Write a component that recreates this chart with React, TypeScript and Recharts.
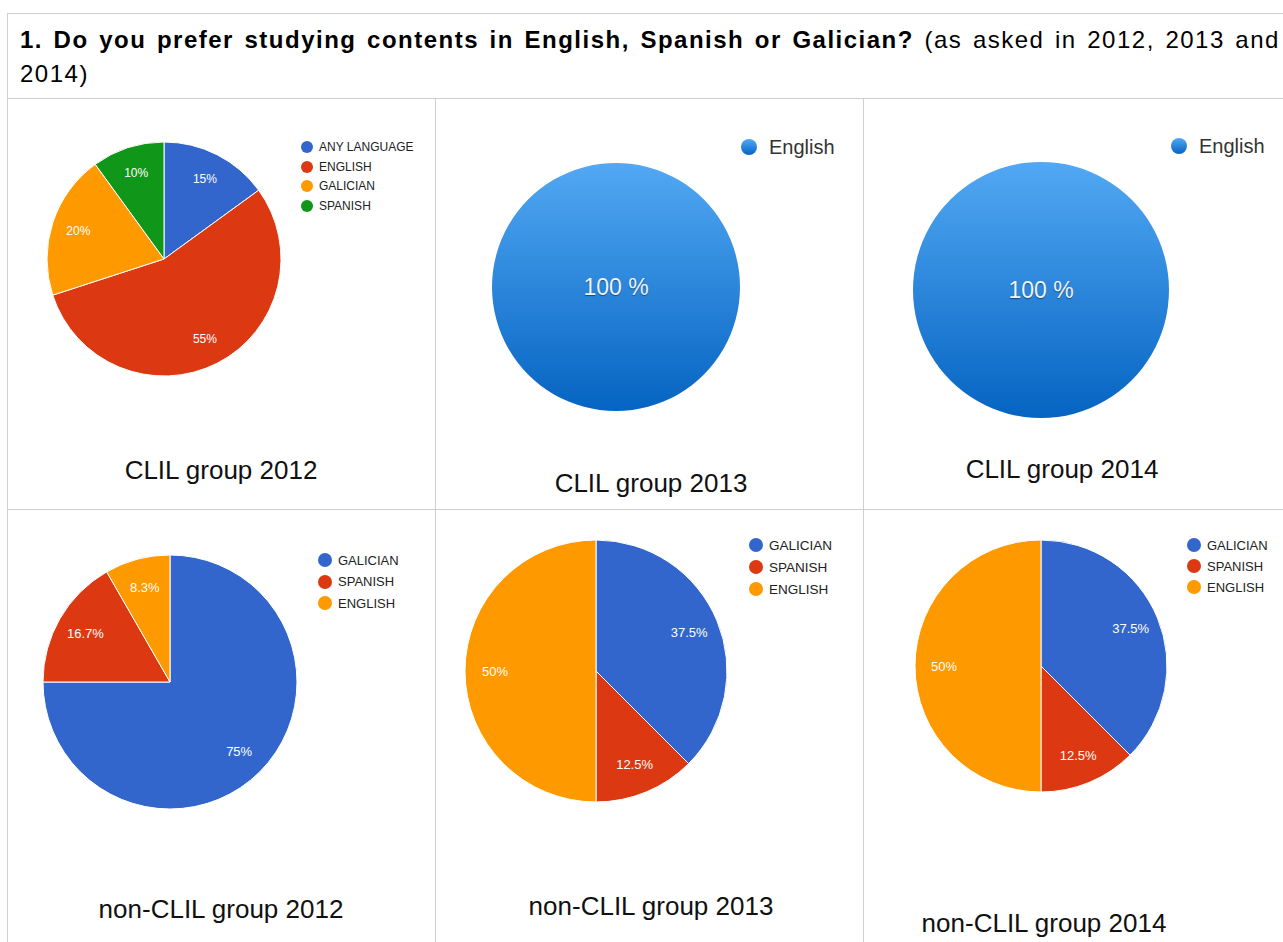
import { PieChart, Pie, Cell } from 'recharts'

// chart values
const clil2012Names = ['ANY LANGUAGE', 'ENGLISH', 'GALICIAN', 'SPANISH']
const clil2012Values = [15, 55, 20, 10]
const clil2013Names = ['English']
const clil2013Values = [100]
const clil2014Names = ['English']
const clil2014Values = [100]
const nonClil2012Names = ['GALICIAN', 'SPANISH', 'ENGLISH']
const nonClil2012Values = [75, 16.7, 8.3]
const nonClil2013Names = ['GALICIAN', 'SPANISH', 'ENGLISH']
const nonClil2013Values = [37.5, 12.5, 50]
const nonClil2014Names = ['GALICIAN', 'SPANISH', 'ENGLISH']
const nonClil2014Values = [37.5, 12.5, 50]

const captions = [
  'CLIL group 2012',
  'CLIL group 2013',
  'CLIL group 2014',
  'non-CLIL group 2012',
  'non-CLIL group 2013',
  'non-CLIL group 2014',
]

const titleBold = '1. Do you prefer studying contents in English, Spanish or Galician?'
const titleRest = '(as asked in 2012, 2013 and'
const titleWrap = '2014)'

const GOOGLE = ['#3366cc', '#dc3912', '#ff9900', '#109618']
const FONT = '"Liberation Sans", Arial, Helvetica, sans-serif'
const RAD = Math.PI / 180
const LINE = '#cfcfcf'

const rows = (names: string[], values: number[]) =>
  names.map((name, i) => ({ name, value: values[i] }))

const googleLabel = (fontSize: number, ratio: number) => (p: any) => {
  const r = p.outerRadius * ratio
  const x = p.cx + r * Math.cos(-p.midAngle * RAD)
  const y = p.cy + r * Math.sin(-p.midAngle * RAD)
  return (
    <text
      x={x}
      y={y}
      fill="#ffffff"
      fontSize={fontSize}
      fontFamily={FONT}
      textAnchor="middle"
      dominantBaseline="central"
    >
      {`${p.value}%`}
    </text>
  )
}

const numbersLabel = (p: any) => (
  <text
    x={p.cx}
    y={p.cy}
    fill="#eef4fb"
    fontSize={23}
    fontFamily={FONT}
    textAnchor="middle"
    dominantBaseline="central"
    style={{ textShadow: '0 1px 1px rgba(0,0,0,0.45)' }}
  >
    {`${p.value} %`}
  </text>
)

type GooglePanel = {
  names: string[]
  values: number[]
  cx: number
  cy: number
  r: number
  labelSize: number
  legendX: number
  legendY: number
  legendGap: number
  legendSize: number
  dotR: number
}

const googlePanels: GooglePanel[] = [
  { names: clil2012Names, values: clil2012Values, cx: 164, cy: 259, r: 117, labelSize: 12, legendX: 307, legendY: 147, legendGap: 19.6, legendSize: 12, dotR: 6 },
  { names: nonClil2012Names, values: nonClil2012Values, cx: 170, cy: 682, r: 127, labelSize: 13, legendX: 325, legendY: 560, legendGap: 21.5, legendSize: 13, dotR: 7 },
  { names: nonClil2013Names, values: nonClil2013Values, cx: 596, cy: 671, r: 131, labelSize: 13, legendX: 756, legendY: 545, legendGap: 22, legendSize: 13.5, dotR: 7 },
  { names: nonClil2014Names, values: nonClil2014Values, cx: 1041, cy: 666, r: 126, labelSize: 13, legendX: 1194, legendY: 545, legendGap: 21, legendSize: 13, dotR: 7 },
]

const numbersPanels = [
  { names: clil2013Names, values: clil2013Values, cx: 616, cy: 287, r: 124, legendX: 749, legendY: 147 },
  { names: clil2014Names, values: clil2014Values, cx: 1041, cy: 290, r: 128, legendX: 1179, legendY: 146 },
]

// caption centre x and baseline y
const captionPos = [
  [221, 479],
  [651, 492],
  [1062, 478],
  [221, 918],
  [651, 915],
  [1044, 932],
]

function GoogleLegend({ p }: { p: GooglePanel }) {
  return (
    <>
      {p.names.map((name, i) => (
        <div
          key={name}
          style={{
            position: 'absolute',
            left: p.legendX - p.dotR,
            top: p.legendY + i * p.legendGap - 10,
            height: 20,
            display: 'flex',
            alignItems: 'center',
            gap: 6,
            fontFamily: FONT,
            fontSize: p.legendSize,
            color: '#222',
            whiteSpace: 'nowrap',
          }}
        >
          <span
            style={{
              width: p.dotR * 2,
              height: p.dotR * 2,
              borderRadius: '50%',
              background: GOOGLE[i % GOOGLE.length],
              display: 'inline-block',
            }}
          />
          {name}
        </div>
      ))}
    </>
  )
}

export default function App() {
  return (
    <div
      style={{
        position: 'absolute',
        left: 0,
        top: 0,
        width: 1283,
        height: 942,
        overflow: 'hidden',
        background: '#fff',
      }}
    >
      {/* table rules */}
      <div style={{ position: 'absolute', left: 7, top: 13, width: 1276, height: 1, background: LINE }} />
      <div style={{ position: 'absolute', left: 7, top: 98, width: 1276, height: 1, background: LINE }} />
      <div style={{ position: 'absolute', left: 7, top: 509, width: 1276, height: 1, background: LINE }} />
      <div style={{ position: 'absolute', left: 7, top: 13, width: 1, height: 929, background: LINE }} />
      <div style={{ position: 'absolute', left: 435, top: 98, width: 1, height: 844, background: LINE }} />
      <div style={{ position: 'absolute', left: 863, top: 98, width: 1, height: 844, background: LINE }} />

      {/* header, justified first line */}
      <div
        style={{
          position: 'absolute',
          left: 20,
          top: 23,
          width: 1260,
          fontFamily: FONT,
          fontSize: 24,
          letterSpacing: 1.5,
          lineHeight: '34px',
          color: '#000',
        }}
      >
        <div style={{ display: 'flex', justifyContent: 'space-between', whiteSpace: 'nowrap' }}>
          {titleBold.split(' ').map((w, i) => (
            <b key={'b' + i}>{w}</b>
          ))}
          {titleRest.split(' ').map((w, i) => (
            <span key={'n' + i}>{w}</span>
          ))}
        </div>
        <div>{titleWrap}</div>
      </div>

      <div style={{ position: 'absolute', left: 0, top: 0 }}>
        <PieChart width={1283} height={942} margin={{ top: 0, right: 0, bottom: 0, left: 0 }}>
          <defs>
            <linearGradient id="numbersBlue" x1="0" y1="0" x2="0" y2="1">
              <stop offset="0%" stopColor="#52a8f3" />
              <stop offset="100%" stopColor="#0564c2" />
            </linearGradient>
          </defs>
          {googlePanels.map((p, k) => (
            <Pie
              key={'g' + k}
              data={rows(p.names, p.values)}
              dataKey="value"
              nameKey="name"
              cx={p.cx}
              cy={p.cy}
              outerRadius={p.r}
              startAngle={90}
              endAngle={-270}
              stroke="#ffffff"
              strokeWidth={1}
              label={googleLabel(p.labelSize, 0.77)}
              labelLine={false}
              isAnimationActive={false}
            >
              {p.names.map((n, i) => (
                <Cell key={n} fill={GOOGLE[i % GOOGLE.length]} />
              ))}
            </Pie>
          ))}
          {numbersPanels.map((p, k) => (
            <Pie
              key={'n' + k}
              data={rows(p.names, p.values)}
              dataKey="value"
              nameKey="name"
              cx={p.cx}
              cy={p.cy}
              outerRadius={p.r}
              startAngle={90}
              endAngle={-270}
              stroke="none"
              fill="url(#numbersBlue)"
              label={numbersLabel}
              labelLine={false}
              isAnimationActive={false}
            >
              {p.names.map((n) => (
                <Cell key={n} fill="url(#numbersBlue)" />
              ))}
            </Pie>
          ))}
        </PieChart>
      </div>

      {googlePanels.map((p, k) => (
        <GoogleLegend key={'lg' + k} p={p} />
      ))}

      {numbersPanels.map((p, k) => (
        <div
          key={'ln' + k}
          style={{
            position: 'absolute',
            left: p.legendX - 8,
            top: p.legendY - 12,
            height: 24,
            display: 'flex',
            alignItems: 'center',
            gap: 12,
            fontFamily: FONT,
            fontSize: 20,
            color: '#333',
            whiteSpace: 'nowrap',
          }}
        >
          <span
            style={{
              width: 16,
              height: 16,
              borderRadius: '50%',
              background: 'linear-gradient(#52a8f3, #0564c2)',
              display: 'inline-block',
            }}
          />
          {p.names[0]}
        </div>
      ))}

      {captions.map((c, i) => (
        <div
          key={c}
          style={{
            position: 'absolute',
            left: captionPos[i][0] - 200,
            width: 400,
            top: captionPos[i][1] - 24,
            lineHeight: '30px',
            textAlign: 'center',
            fontFamily: FONT,
            fontSize: 26,
            color: '#111',
          }}
        >
          {c}
        </div>
      ))}
    </div>
  )
}
